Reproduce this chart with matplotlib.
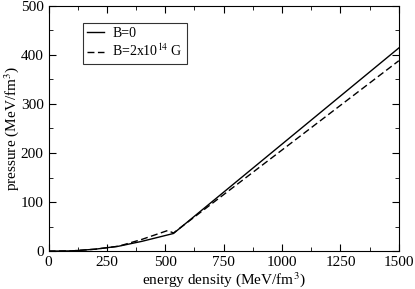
import matplotlib
matplotlib.use("Agg")
import matplotlib.pyplot as plt
from matplotlib.ticker import MultipleLocator

plt.rcParams['font.family'] = ['Liberation Serif', 'DejaVu Serif']
plt.rcParams['mathtext.fontset'] = 'stix'

# ========== data ==========
eps_b0 = [0, 100, 200, 300, 400, 535, 1500]
p_b0 = [0, 0.5, 4, 10, 20, 36, 414]
eps_b = [0, 100, 200, 300, 400, 510, 535, 1500]
p_b = [0, 0.5, 4, 10, 24, 42, 37, 388]

fig = plt.figure(figsize=(4.15, 2.89), dpi=100)
ax = fig.add_axes([0.117, 0.131, 0.844, 0.849])

ax.plot(eps_b0, p_b0, color='black', lw=1.0, label='B=0')
ax.plot(eps_b, p_b, color='black', lw=1.0, ls=(0, (5, 2.5)), label='B=2x10$^{14}$ G')

ax.set_xlim(0, 1500)
ax.set_ylim(0, 500)
ax.xaxis.set_major_locator(MultipleLocator(250))
ax.xaxis.set_minor_locator(MultipleLocator(125))
ax.yaxis.set_major_locator(MultipleLocator(100))
ax.yaxis.set_minor_locator(MultipleLocator(50))
ax.tick_params(which='both', direction='in', top=True, right=True, labelsize=11)
ax.tick_params(which='major', length=5)
ax.tick_params(which='minor', length=3)

ax.set_xlabel('energy density (MeV/fm$^3$)', fontsize=11, labelpad=1)
ax.set_ylabel('pressure (MeV/fm$^3$)', fontsize=11, labelpad=0)

leg = ax.legend(loc='upper left', bbox_to_anchor=(0.098, 0.93), borderaxespad=0,
                fontsize=10, frameon=True, fancybox=False, edgecolor='black',
                handlelength=1.2, borderpad=0.3, labelspacing=0.2, handletextpad=0.6)
leg.get_frame().set_linewidth(0.8)

fig.savefig('out.png', dpi=100)
